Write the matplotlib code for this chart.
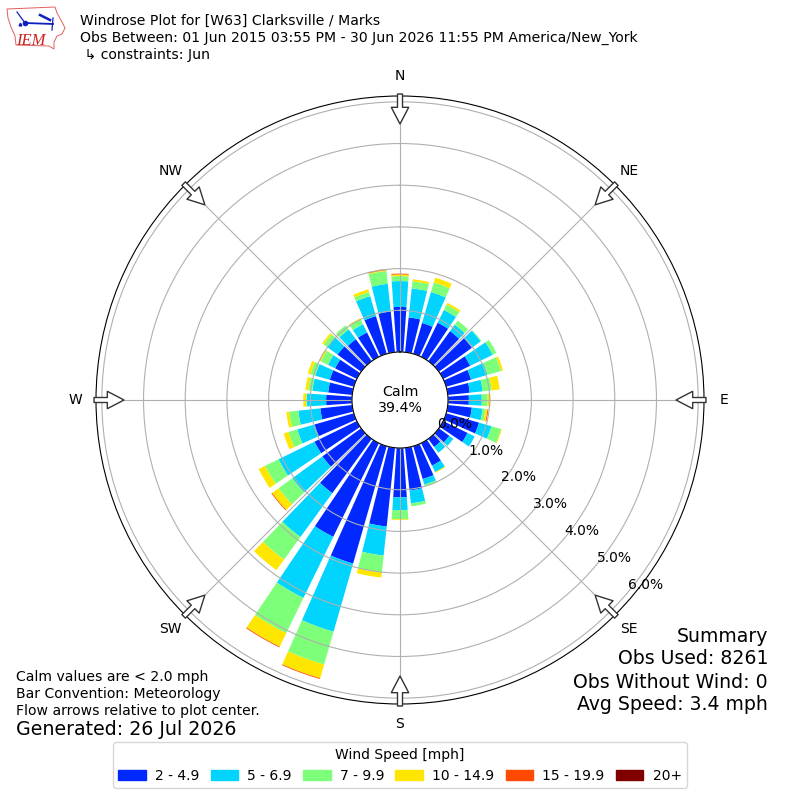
import numpy as np
import matplotlib
matplotlib.use("Agg")
import matplotlib.pyplot as plt
from matplotlib.patches import Patch, Polygon

# Direction bins, every 10 degrees from north
DIRECTIONS = np.arange(0, 360, 10)
COMPASS = ["N", "NE", "E", "SE", "S", "SW", "W", "NW"]

# Frequency [%] per wind speed bin
bin_2_5 = [1.08, 0.84, 0.77, 0.91, 0.89, 0.98, 0.72, 0.62, 0.53, 0.50, 0.58, 0.82,
           0.65, 0.31, 0.24, 0.60, 0.82, 1.03, 1.18, 1.90, 2.93, 2.50, 1.61, 1.15,
           1.13, 0.98, 0.77, 0.62, 0.58, 0.60, 0.58, 0.70, 0.65, 0.65, 0.94, 0.98]
bin_5_7 = [0.62, 0.70, 0.77, 0.34, 0.19, 0.26, 0.60, 0.41, 0.31, 0.31, 0.26, 0.31,
           0.19, 0.12, 0.17, 0.17, 0.14, 0.31, 0.31, 0.70, 1.70, 1.63, 1.30, 0.89,
           0.96, 0.43, 0.53, 0.46, 0.38, 0.36, 0.19, 0.31, 0.29, 0.22, 0.50, 0.67]
bin_7_10 = [0.12, 0.17, 0.24, 0.14, 0.12, 0.02, 0.10, 0.34, 0.22, 0.14, 0.07, 0.24,
            0.00, 0.00, 0.00, 0.00, 0.05, 0.07, 0.22, 0.41, 0.82, 0.94, 0.67, 0.41,
            0.36, 0.22, 0.22, 0.02, 0.10, 0.12, 0.19, 0.10, 0.12, 0.14, 0.10, 0.31]
bin_10_15 = [0.04, 0.05, 0.12, 0.05, 0.00, 0.00, 0.00, 0.05, 0.19, 0.07, 0.05, 0.02,
             0.00, 0.00, 0.00, 0.02, 0.00, 0.00, 0.02, 0.12, 0.34, 0.36, 0.31, 0.19,
             0.17, 0.12, 0.07, 0.07, 0.07, 0.07, 0.05, 0.05, 0.00, 0.02, 0.07, 0.02]
bin_15_20 = [0.02, 0.00, 0.00, 0.00, 0.00, 0.00, 0.00, 0.00, 0.00, 0.00, 0.02, 0.00,
             0.00, 0.00, 0.00, 0.00, 0.00, 0.00, 0.00, 0.00, 0.02, 0.02, 0.00, 0.02,
             0.00, 0.00, 0.00, 0.00, 0.00, 0.00, 0.00, 0.00, 0.00, 0.00, 0.00, 0.02]
bin_20_up = [0.0] * 36

SERIES = [bin_2_5, bin_5_7, bin_7_10, bin_10_15, bin_15_20, bin_20_up]
LABELS = ["2 - 4.9", "5 - 6.9", "7 - 9.9", "10 - 14.9", "15 - 19.9", "20+"]
COLORS = ["#0028ff", "#00d4ff", "#7dff7a", "#ffe600", "#ff4a00", "#800000"]
RTICKS = [0, 1, 2, 3, 4, 5, 6]
SUMMARY = ["Summary", "Obs Used: 8261", "Obs Without Wind: 0", "Avg Speed: 3.4 mph"]

# Logo outline in picture pixels
IOWA_X = [7, 55, 57, 62, 65, 62, 57, 54, 54, 49, 16, 15, 11, 8, 7]
IOWA_Y = [9, 7, 13, 22, 28, 34, 36, 42, 49, 46, 45, 36, 27, 18, 9]

fig = plt.figure(figsize=(8, 8), dpi=100)
ax = fig.add_axes([0.12, 0.12, 0.76, 0.76], projection="polar")
ax.set_theta_zero_location("N")
ax.set_theta_direction(-1)

# ==========================================
# Stacked bars
# ==========================================
theta = np.radians(DIRECTIONS)
base = np.zeros(36)
for vals, color in zip(SERIES, COLORS):
    vals = np.array(vals)
    ax.bar(theta, vals, width=np.radians(8), bottom=base, color=color, linewidth=0)
    base = base + vals

ax.set_rorigin(-1.152)
ax.set_ylim(0, 6.14)
ax.set_rgrids(RTICKS, [f"{r:.1f}%" for r in RTICKS], angle=130, fontsize=10)
ax.set_thetagrids(np.arange(0, 360, 45), COMPASS, fontsize=10)
ax.tick_params(axis="x", pad=4)
ax.grid(True, color="#b0b0b0", linewidth=0.8)
for lab in ax.get_yticklabels():
    lab.set_ha("left")
    lab.set_va("bottom")

# Flow arrows on the eight main directions
for ang in np.arange(0, 360, 45):
    s, c = np.sin(np.radians(ang)), np.cos(np.radians(ang))
    ax.annotate(
        "",
        xy=(0.5 + 276 / 608 * s, 0.5 + 276 / 608 * c),
        xytext=(0.5 + 306 / 608 * s, 0.5 + 306 / 608 * c),
        xycoords="axes fraction",
        textcoords="axes fraction",
        annotation_clip=False,
        arrowprops=dict(
            arrowstyle="simple,tail_width=0.36,head_width=1.25,head_length=1.2",
            mutation_scale=10,
            shrinkA=0,
            shrinkB=0,
            fc="white",
            ec="#333333",
            lw=1,
        ),
    )

ax.text(0.5, 0.5, "Calm\n39.4%", transform=ax.transAxes, ha="center", va="center",
        fontsize=10.2, linespacing=1.25)

# ==========================================
# Header, footers and legend
# ==========================================
fig.text(
    0.1, 0.9825,
    "Windrose Plot for [W63] Clarksville / Marks\n"
    "Obs Between: 01 Jun 2015 03:55 PM - 30 Jun 2026 11:55 PM America/New_York\n"
    " \u21b3 constraints: Jun",
    fontsize=10.1, va="top", linespacing=1.25,
)
# One text per line, the SE label sits right beside the first one
for i, line in enumerate(SUMMARY):
    fig.text(0.96, 0.205 - i * 0.02875, line, fontsize=13.6, ha="right", va="center")
fig.text(
    0.02, 0.103,
    "Calm values are < 2.0 mph\nBar Convention: Meteorology\nFlow arrows relative to plot center.",
    fontsize=10.1, va="bottom", linespacing=1.25,
)
fig.text(0.02, 0.088, "Generated: 26 Jul 2026", fontsize=13.7, va="center")

handles = [Patch(color=c, label=l) for c, l in zip(COLORS, LABELS)]
fig.legend(handles=handles, title="Wind Speed [mph]", ncol=6, loc="lower center",
           bbox_to_anchor=(0.5, 0.00625), fontsize=10, title_fontsize=10,
           handlelength=2, handletextpad=0.65, columnspacing=0.8)

# IEM logo, drawn by hand in picture pixels
logo = fig.add_axes([0.005, 0.935, 0.08, 0.06])
logo.set_xlim(4, 68)
logo.set_ylim(52, 4)
logo.axis("off")
logo.add_patch(Polygon(np.column_stack([IOWA_X, IOWA_Y]), fill=False, ec="#e06060", lw=0.7))
logo.plot([25, 53], [23, 24], color="#1020c0", lw=1.3)
logo.plot([17, 25], [12, 23], color="#1020c0", lw=0.9)
logo.plot([40, 50], [15, 20], color="#1020c0", lw=1.8)
logo.plot([53, 52], [18, 30], color="#1020c0", lw=0.9)
logo.plot([25], [23], "o", color="#1020c0", ms=3)
logo.plot([20], [24], "^", color="#1020c0", ms=2)
logo.text(16, 45, "IEM", color="#d02020", fontsize=12, style="italic", family="Liberation Serif")

fig.savefig("out.png", dpi=100)
